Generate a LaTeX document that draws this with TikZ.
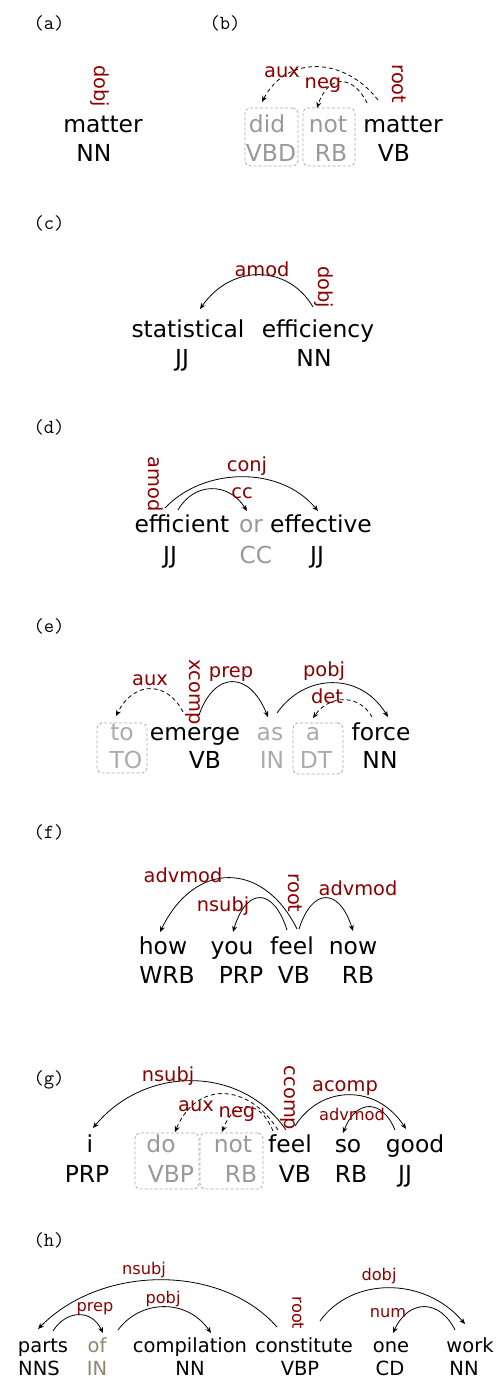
\documentclass[tikz,border=0pt]{standalone}
\usepackage{fontspec}
\setmainfont{DejaVu Sans}
\usetikzlibrary{arrows.meta}
\definecolor{relred}{HTML}{8B0000}
\definecolor{mute}{HTML}{999999}
\definecolor{mutelight}{HTML}{ABABAB}
\definecolor{boxgray}{HTML}{AAAAAA}
\definecolor{taupe}{HTML}{8E8770}

\begin{document}
\begin{tikzpicture}[x=1pt,y=-1pt,
  wd/.style={anchor=base, inner sep=0pt, font=\fontsize{23.4}{28}\selectfont},
  wds/.style={anchor=base, inner sep=0pt, font=\fontsize{19.5}{23}\selectfont},
  rel/.style={text=relred, inner sep=0pt, font=\fontsize{19.4}{23}\selectfont},
  rels/.style={text=relred, inner sep=0pt, font=\fontsize{16.2}{19}\selectfont},
  vert/.style={rotate=-90},
  panel/.style={inner sep=0pt, font=\ttfamily\fontsize{20}{24}\selectfont},
  wordbox/.style={draw=boxgray, dash pattern=on 3pt off 2pt, rounded corners=5pt,
    line width=0.8pt, inner sep=0pt},
  arc/.style={line width=0.8pt, -{Stealth[length=6pt,width=5pt]}},
  darc/.style={arc, dash pattern=on 4pt off 3pt},
]
\useasboundingbox (0,0) rectangle (498,1379);

% ---------- (a) ----------
\node[panel] (pa) at (49,23) {(a)};
\node[wd] (a1) at (103,132) {matter};
\node[wd] (a1t) at (94,161) {NN};
\node[rel, vert] (a1r) at (100,86) {dobj};

% ---------- (b) ----------
\node[panel] (pb) at (225,23) {(b)};
\node[wordbox, minimum width=53pt, minimum height=58pt] (bbox1) at (271.5,137) {};
\node[wordbox, minimum width=52pt, minimum height=58pt] (bbox2) at (329,137) {};
\node[wd, text=mute] (b1) at (267,132) {did};
\node[wd, text=mute] (b1t) at (271,161) {VBD};
\node[wd, text=mute] (b2) at (328,132) {not};
\node[wd, text=mute] (b2t) at (331,161) {RB};
\node[wd] (b3) at (403,132) {matter};
\node[wd] (b3t) at (394,161) {VB};
\node[rel, vert] (b3r) at (399,84) {root};
\draw[darc] ([shift={(-25,-32)}]b3.base) .. controls +(-34,-44) and +(24,-46.7) .. ([shift={(-5,-30)}]b1.base);
\node[rel] (b1r) at (282,72) {aux};
\draw[darc] ([shift={(-36,-29)}]b3.base) .. controls +(-13.5,-28) and +(11.5,-34.7) .. ([shift={(-11,-24)}]b2.base);
\node[rel] (b2r) at (323,85) {neg};

% ---------- (c) ----------
\node[panel] (pc) at (49,223) {(c)};
\node[wd] (c1) at (188,337) {statistical};
\node[wd] (c1t) at (182,366) {JJ};
\node[wd] (c2) at (318,337) {efficiency};
\node[wd] (c2t) at (314,366) {NN};
\draw[arc] ([shift={(-5,-30)}]c2.base) .. controls +(-25,-42.7) and +(31.5,-45.3) .. ([shift={(12,-28)}]c1.base);
\node[rel] (c1r) at (262,269) {amod};
\node[rel, vert] (c2r) at (324,287) {dobj};

% ---------- (d) ----------
\node[panel] (pd) at (49,427) {(d)};
\node[wd] (d1) at (182,532) {efficient};
\node[wd] (d1t) at (170,563) {JJ};
\node[wd, text=mute] (d2) at (251,532) {or};
\node[wd, text=mute] (d2t) at (256,563) {CC};
\node[wd] (d3) at (321,532) {effective};
\node[wd] (d3t) at (317,563) {JJ};
\node[rel, vert] (d1r) at (156,484) {amod};
\draw[arc] ([shift={(-17,-24)}]d1.base) .. controls +(39,-41.3) and +(-37.5,-45.3) .. ([shift={(-3,-21)}]d3.base);
\node[rel] (d3r) at (247,466) {conj};
\draw[arc] ([shift={(-4,-22)}]d1.base) .. controls +(16,-28) and +(-18.5,-29.3) .. ([shift={(-4,-21)}]d2.base);
\node[rel] (d2r) at (242,493) {cc};

% ---------- (e) ----------
\node[panel] (pe) at (49,626) {(e)};
\node[wordbox, minimum width=50pt, minimum height=50pt] (ebox1) at (122,748) {};
\node[wordbox, minimum width=50pt, minimum height=51pt] (ebox2) at (318,748.5) {};
\node[wd, text=mutelight] (e1) at (122,740) {to};
\node[wd, text=mutelight] (e1t) at (126,768) {TO};
\node[wd] (e2) at (195,740) {emerge};
\node[wd] (e2t) at (205,768) {VB};
\node[wd, text=mutelight] (e3) at (270,740) {as};
\node[wd, text=mutelight] (e3t) at (272,768) {IN};
\node[wd, text=mutelight] (e4) at (313,740) {a};
\node[wd, text=mutelight] (e4t) at (316,768) {DT};
\node[wd] (e5) at (381,740) {force};
\node[wd] (e5t) at (380,768) {NN};
\draw[darc] ([shift={(-12,-28)}]e2.base) .. controls +(-15.5,-30.7) and +(18,-36) .. ([shift={(-6,-24)}]e1.base);
\node[rel] (e1r) at (150,680) {aux};
\node[rel, vert] (e2r) at (193,692) {xcomp};
\draw[arc] ([shift={(4,-25)}]e2.base) .. controls +(15.5,-44) and +(-19,-46.7) .. ([shift={(-2,-23)}]e3.base);
\node[rel] (e3r) at (231,674) {prep};
\draw[arc] ([shift={(7,-27)}]e3.base) .. controls +(28,-40) and +(-27.5,-45.3) .. ([shift={(7,-23)}]e5.base);
\node[rel] (e5r) at (324,671) {pobj};
\draw[darc] ([shift={(-9,-23)}]e5.base) .. controls +(-12.5,-22.7) and +(17,-24) .. ([shift={(0,-22)}]e4.base);
\node[rel] (e4r) at (327,696) {det};

% ---------- (f) ----------
\node[panel] (pf) at (49,832) {(f)};
\node[wd] (f1) at (163,954) {how};
\node[wd] (f1t) at (167,983) {WRB};
\node[wd] (f2) at (232,954) {you};
\node[wd] (f2t) at (241,983) {PRP};
\node[wd] (f3) at (292,954) {feel};
\node[wd] (f3t) at (294,983) {VB};
\node[wd] (f4) at (353,954) {now};
\node[wd] (f4t) at (358,983) {RB};
\draw[arc] ([shift={(5,-25)}]f3.base) .. controls +(-33.5,-68) and +(35,-72) .. ([shift={(-3,-22)}]f1.base);
\node[rel] (f1r) at (183,875) {advmod};
\draw[arc] ([shift={(-5,-24)}]f3.base) .. controls +(-13.5,-42.7) and +(13.5,-45.3) .. ([shift={(1,-22)}]f2.base);
\node[rel] (f2r) at (223,906) {nsubj};
\node[rel, vert] (f3r) at (295,893) {root};
\draw[arc] ([shift={(7,-25)}]f3.base) .. controls +(13,-41.3) and +(-14,-44) .. ([shift={(0,-23)}]f4.base);
\node[rel] (f4r) at (358,888) {advmod};

% ---------- (g) ----------
\node[panel] (pg) at (49,1080) {(g)};
\node[wordbox, minimum width=64pt, minimum height=56pt] (gbox1) at (167,1161) {};
\node[wordbox, minimum width=63pt, minimum height=56pt] (gbox2) at (231.5,1161) {};
\node[wd] (g1) at (90,1152) {i};
\node[wd] (g1t) at (87,1182) {PRP};
\node[wd, text=mute] (g2) at (161,1152) {do};
\node[wd, text=mute] (g2t) at (171,1182) {VBP};
\node[wd, text=mute] (g3) at (233,1152) {not};
\node[wd, text=mute] (g3t) at (241,1182) {RB};
\node[wd] (g4) at (290,1152) {feel};
\node[wd] (g4t) at (295,1182) {VB};
\node[wd] (g5) at (348,1152) {so};
\node[wd] (g5t) at (351,1182) {RB};
\node[wd] (g6) at (415,1152) {good};
\node[wd] (g6t) at (405,1182) {JJ};
\draw[arc] ([shift={(-4,-22)}]g4.base) .. controls +(-44.5,-65.3) and +(52,-62.7) .. ([shift={(3,-24)}]g1.base);
\node[rel] (g1r) at (168,1076) {nsubj};
\draw[darc] ([shift={(-12,-22)}]g4.base) .. controls +(-30.5,-48) and +(21,-50.7) .. ([shift={(14,-20)}]g2.base);
\node[rel] (g2r) at (196,1106) {aux};
\draw[darc] ([shift={(-17,-21)}]g4.base) .. controls +(-13,-32) and +(12.5,-33.3) .. ([shift={(-11,-20)}]g3.base);
\node[rel] (g3r) at (237,1114) {neg};
\node[rel, vert] (g4r) at (288,1098) {ccomp};
\draw[arc] ([shift={(5,-26)}]g4.base) .. controls +(26,-41.3) and +(-29.5,-45.3) .. ([shift={(-9,-23)}]g6.base);
\node[rel] (g6r) at (345,1088) {acomp};
\draw[arc] ([shift={(-20,-22)}]g6.base) .. controls +(-12.5,-30.7) and +(13.5,-34.7) .. ([shift={(-5,-19)}]g5.base);
\node[rels] (g5r) at (352,1114) {advmod};

% ---------- (h) ----------
\node[panel] (ph) at (49,1240) {(h)};
\node[wds] (h1) at (43,1352) {parts};
\node[wds] (h1t) at (39,1375) {NNS};
\node[wds, text=taupe] (h2) at (97,1352) {of};
\node[wds, text=taupe] (h2t) at (97,1375) {IN};
\node[wds] (h3) at (190,1352) {compilation};
\node[wds] (h3t) at (190,1375) {NN};
\node[wds] (h4) at (304,1352) {constitute};
\node[wds] (h4t) at (300,1375) {VBP};
\node[wds] (h5) at (391,1352) {one};
\node[wds] (h5t) at (390,1375) {CD};
\node[wds] (h6) at (470,1352) {work};
\node[wds] (h6t) at (464,1375) {NN};
\draw[arc] ([shift={(-27,-25)}]h4.base) .. controls +(-55,-62.7) and +(64.5,-65.3) .. ([shift={(-5,-23)}]h1.base);
\node[rels] (h1r) at (144,1270) {nsubj};
\draw[arc] ([shift={(10,-21)}]h1.base) .. controls +(13.5,-21.3) and +(-11.5,-24) .. ([shift={(6,-19)}]h2.base);
\node[rels] (h2r) at (95,1309) {prep};
\draw[arc] ([shift={(21,-22)}]h2.base) .. controls +(22.5,-30.7) and +(-24,-34.7) .. ([shift={(21,-19)}]h3.base);
\node[rels] (h3r) at (163,1299) {pobj};
\node[rels, vert] (h4r) at (298,1313) {root};
\draw[arc] ([shift={(16,-31)}]h4.base) .. controls +(31.5,-44) and +(-41,-48) .. ([shift={(-5,-28)}]h6.base);
\node[rels] (h6r) at (379,1276) {dobj};
\draw[arc] ([shift={(-15,-22)}]h6.base) .. controls +(-15,-30.7) and +(16,-34.7) .. ([shift={(2,-19)}]h5.base);
\node[rels] (h5r) at (388,1313) {num};
\end{tikzpicture}
\end{document}
